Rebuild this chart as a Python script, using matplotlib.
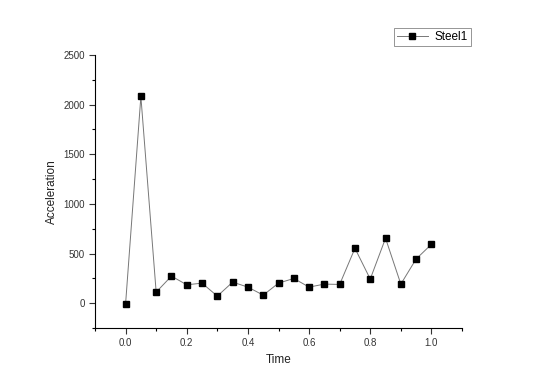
import matplotlib
matplotlib.use("Agg")
import matplotlib.pyplot as plt
from matplotlib.ticker import MultipleLocator

plt.rcParams['font.family'] = ['Liberation Sans', 'DejaVu Sans']

time = [0.0, 0.05, 0.1, 0.15, 0.2, 0.25, 0.3, 0.35, 0.4, 0.45, 0.5,
        0.55, 0.6, 0.65, 0.7, 0.75, 0.8, 0.85, 0.9, 0.95, 1.0]
accel = [-7, 2082, 111, 273, 185, 202, 71, 212, 162, 81, 202,
         249, 162, 192, 189, 553, 243, 654, 192, 445, 593]
series_name = "Steel1"

fig = plt.figure(figsize=(5.54, 3.87), dpi=100)
ax = fig.add_axes([95/554, 1-328/387, (462-95)/554, (328-55)/387])

ax.plot(time, accel, color='#777777', linewidth=0.7, marker='s',
        markersize=5, markerfacecolor='black', markeredgecolor='black',
        label=series_name)

ax.set_xlim(-0.1, 1.1)
ax.set_ylim(-250, 2500)
ax.xaxis.set_major_locator(MultipleLocator(0.2))
ax.xaxis.set_minor_locator(MultipleLocator(0.1))
ax.yaxis.set_major_locator(MultipleLocator(500))
ax.yaxis.set_minor_locator(MultipleLocator(250))
ax.tick_params(which='major', direction='out', length=4, width=0.8,
               labelsize=7, colors='#333333')
ax.tick_params(which='minor', direction='out', length=2, width=0.8)
ax.spines['top'].set_visible(False)
ax.spines['right'].set_visible(False)
ax.set_xticks([0.0, 0.2, 0.4, 0.6, 0.8, 1.0])
ax.set_xticklabels(['0.0', '0.2', '0.4', '0.6', '0.8', '1.0'])

ax.set_xlabel('Time', fontsize=8.5, color='#222222', labelpad=4)
ax.set_ylabel('Acceleration', fontsize=8.5, color='#222222', labelpad=4)

leg = ax.legend(loc='upper right', bbox_to_anchor=(471/554, 1-28/387),
                bbox_transform=fig.transFigure, fontsize=8.5, frameon=True,
                fancybox=False, borderpad=0.25, handlelength=2.6,
                handletextpad=0.6, borderaxespad=0, markerscale=0.9)
leg.get_frame().set_edgecolor('#666666')
leg.get_frame().set_linewidth(0.6)

fig.savefig('out.png', dpi=100)
